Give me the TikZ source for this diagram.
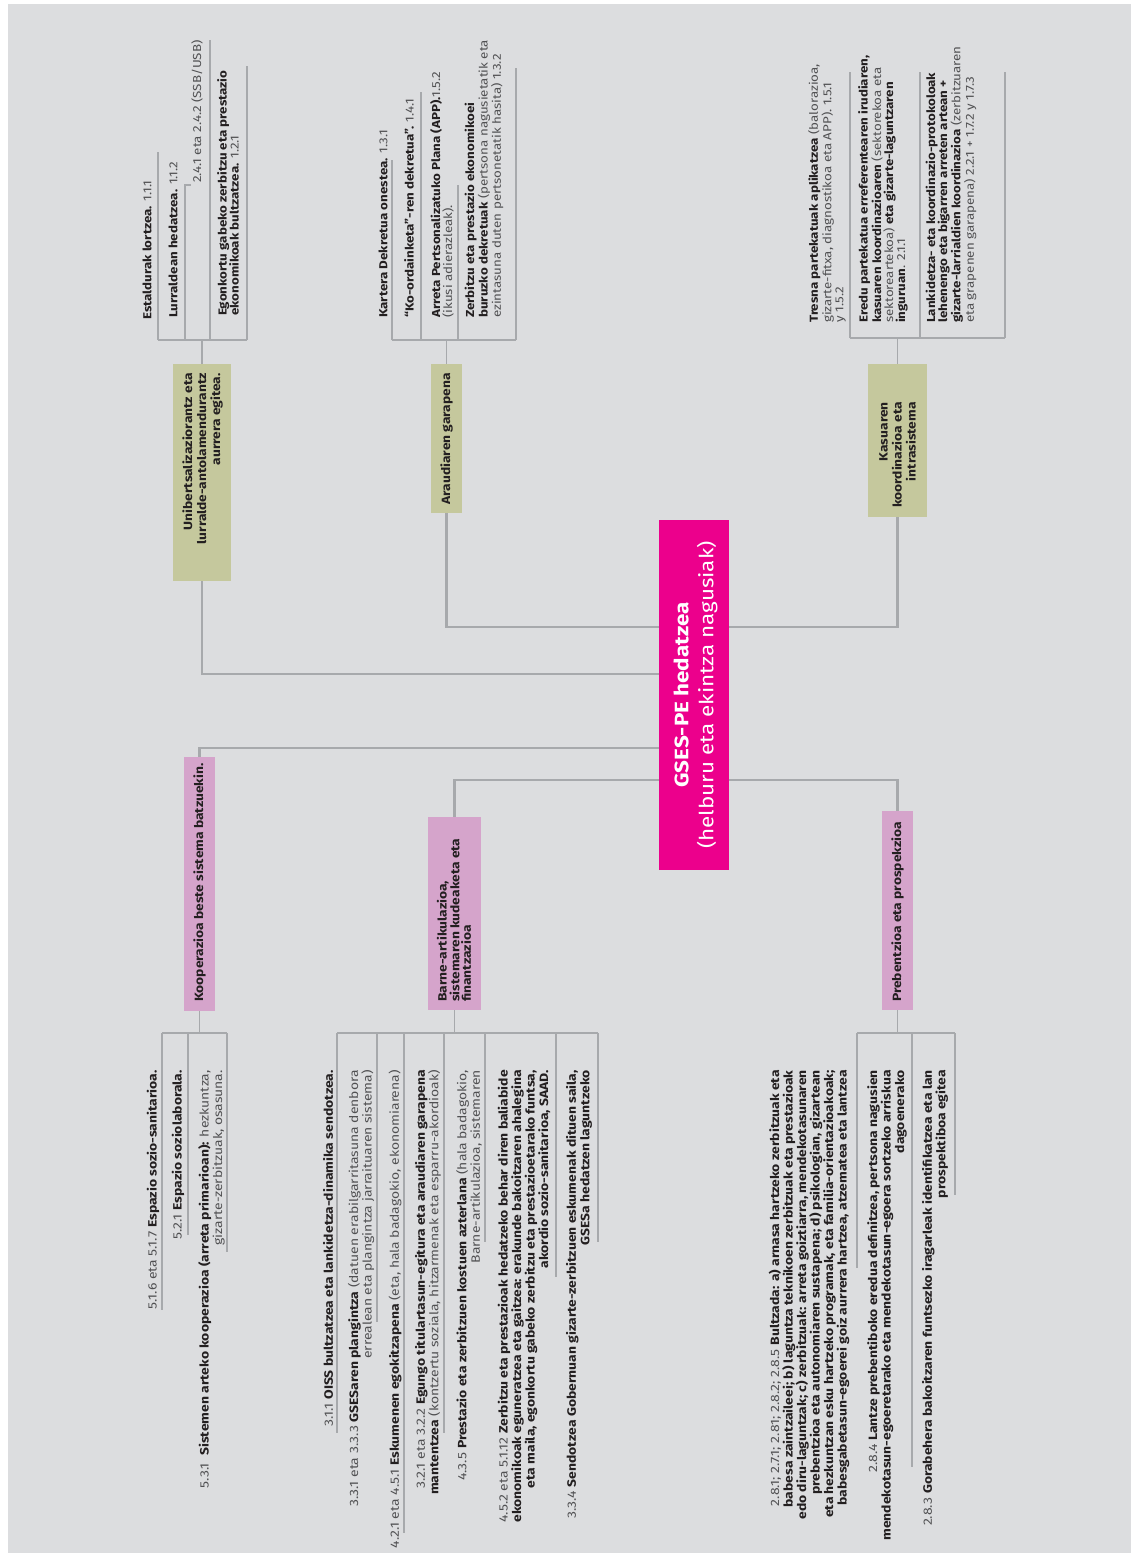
\documentclass[tikz,border=0pt]{standalone}
\usepackage{fontspec}
\setmainfont{Fira Sans}[FakeStretch=1.15]
\definecolor{bgc}{HTML}{DCDDDF}
\definecolor{linec}{HTML}{A7A9AC}
\definecolor{greenc}{HTML}{C5C89D}
\definecolor{pinkc}{HTML}{D5A4CB}
\definecolor{magc}{HTML}{EC008C}
\definecolor{txtc}{HTML}{231F20}
\definecolor{ltc}{HTML}{505052}
\newcommand\lt[1]{{\color{ltc}#1}}
\pgfdeclarelayer{bgl}\pgfdeclarelayer{lines}\pgfsetlayers{bgl,lines,main}
\begin{document}
\begin{tikzpicture}[x=1pt,y=-1pt,
  conn/.style={draw=linec, line width=2.6pt},
  brk/.style={draw=linec, line width=1.2pt},
  gbox/.style={fill=greenc, inner sep=0pt, draw=none},
  pbox/.style={fill=pinkc, inner sep=0pt, draw=none},
  btxt/.style={rotate=90, inner sep=0pt, font=\bfseries\fontsize{12}{14}\selectfont, text=txtc},
  ttxt/.style={rotate=90, inner sep=0pt, anchor=west, align=left, font=\fontsize{11.6}{12}\selectfont, text=txtc},
  dtxt/.style={rotate=90, inner sep=0pt, anchor=east, align=right, font=\fontsize{12.1}{13.5}\selectfont, text=txtc}]
\useasboundingbox (0,0) rectangle (1131,1555);
\begin{pgfonlayer}{bgl}
\fill[white] (0,0) rectangle (1131,1555);
\fill[bgc] (8,4) rectangle (1131,1553);
\end{pgfonlayer}

% central node
\node[fill=magc, minimum width=70pt, minimum height=350pt, inner sep=0pt] (center) at (694,695) {};
\node[rotate=90, text=white, align=center, inner sep=0pt, font=\fontsize{19.5}{25}\selectfont] (ctext) at (695.5,695) {\textbf{GSES-PE hedatzea}\\(helburu eta ekintza nagusiak)};

% boxes
\node[gbox, minimum width=58pt, minimum height=217pt] (uni) at (202,472.5) {};
\node[btxt, anchor=east, align=right] (unit) at (202.5,373) {Unibertsalizaziorantz eta\\lurralde-antolamendurantz\\aurrera egitea.};
\node[gbox, minimum width=31pt, minimum height=149pt] (arau) at (446.5,438.5) {};
\node[btxt, anchor=east, align=right] (araut) at (446.5,373) {Araudiaren garapena};
\node[gbox, minimum width=59pt, minimum height=153pt] (kas) at (897.5,440.5) {};
\node[btxt, anchor=east, align=right] (kast) at (897.5,402) {Kasuaren\\koordinazioa eta\\intrasistema};
\node[pbox, minimum width=31pt, minimum height=254pt] (koop) at (199.5,884) {};
\node[btxt, anchor=west, align=left] (koopt) at (199.5,1002) {Kooperazioa beste sistema batzuekin.};
\node[pbox, minimum width=53pt, minimum height=193pt] (barne) at (454.5,913.5) {};
\node[btxt, anchor=west, align=left, font=\bfseries\fontsize{12}{11.5}\selectfont] (barnet) at (454,1002) {Barne-artikulazioa,\\sistemaren kudeaketa eta\\finantzazioa};
\node[pbox, minimum width=31pt, minimum height=199pt] (preb) at (897.5,910.5) {};
\node[btxt, anchor=west, align=left] (prebt) at (897.5,1002) {Prebentzioa eta prospekzioa};

% top-left texts
\node[ttxt] (t1) at (147,320) {\textbf{Estaldurak lortzea.} \lt{1.1.1}};
\node[ttxt] (t2) at (173,318) {\textbf{Lurraldean hedatzea.} \lt{1.1.2}};
\node[ttxt] (t3) at (197,183) {\lt{2.4.1 eta 2.4.2 (SSB/USB)}};
\node[ttxt] (t4) at (228,316) {\textbf{Egonkortu gabeko zerbitzu eta prestazio}\\\textbf{ekonomikoak bultzatzea.} \lt{1.2.1}};

% kartera texts
\node[ttxt] (k1) at (383,318) {\textbf{Kartera Dekretua onestea.} \lt{1.3.1}};
\node[ttxt] (k2) at (409,318) {\textbf{“Ko-ordainketa”-ren dekretua”.} \lt{1.4.1}};
\node[ttxt] (k3) at (442,318) {\textbf{Arreta Pertsonalizatuko Plana (APP).}\lt{1.5.2}\\\lt{(ikusi adierazleak).}};
\node[ttxt] (k4) at (484,318) {\textbf{Zerbitzu eta prestazio ekonomikoei}\\\textbf{buruzko dekretuak} \lt{(pertsona nagusietatik eta}\\\lt{ezintasuna duten pertsonetatik hasita) 1.3.2}};

% kasuaren texts
\node[ttxt] (s1) at (827,323) {\textbf{Tresna partekatuak aplikatzea} \lt{(balorazioa,}\\\lt{gizarte-fitxa, diagnostikoa eta APP). 1.5.1}\\\lt{y 1.5.2}};
\node[ttxt] (s2) at (883,323) {\textbf{Eredu partekatua erreferentearen irudiaren,}\\\textbf{kasuaren koordinazioaren} \lt{(sektorekoa eta}\\\lt{sektoreartekoa)} \textbf{eta gizarte-laguntzaren}\\\textbf{inguruan}\lt{. 2.1.1}};
\node[ttxt] (s3) at (951,323) {\textbf{Lankidetza- eta koordinazio-protokoloak}\\\textbf{lehenengo eta bigarren arreten artean +}\\\textbf{gizarte-larrialdien koordinazioa} \lt{(zerbitzuaren}\\\lt{eta grapenen garapena) 2.2.1 + 1.7.2 y 1.7.3}};

% kooperazioa texts
\node[dtxt] (p1) at (153,1070) {\lt{5.1.6 eta 5.1.7} \textbf{Espazio sozio-sanitarioa.}};
\node[dtxt] (p2) at (178,1070) {\lt{5.2.1} \textbf{Espazio soziolaborala.}};
\node[dtxt] (p3) at (211.5,1070) {\lt{5.3.1}\ \ \textbf{Sistemen arteko kooperazioa (arreta primarioan):} \lt{hezkuntza,}\\\lt{gizarte-zerbitzuak, osasuna.}};

% barne texts
\node[dtxt] (b1) at (328,1070) {\lt{3.1.1} \textbf{OISS bultzatzea eta lankidetza-dinamika sendotzea.}};
\node[dtxt] (b2) at (361,1070) {\lt{3.3.1 eta 3.3.3} \textbf{GSESaren plangintza} \lt{(datuen erabilgarritasuna denbora}\\\lt{errealean eta plangintza jarraituaren sistema)}};
\node[dtxt] (b3) at (395,1070) {\lt{4.2.1 eta 4.5.1} \textbf{Eskumenen egokitzapena} \lt{(eta, hala badagokio, ekonomiarena)}};
\node[dtxt] (b4) at (428,1070) {\lt{3.2.1 eta 3.2.2} \textbf{Egungo titulartasun-egitura eta araudiaren garapena}\\\textbf{mantentzea} \lt{(kontzertu soziala, hitzarmenak eta esparru-akordioak)}};
\node[dtxt] (b5) at (469,1070) {\lt{4.3.5} \textbf{Prestazio eta zerbitzuen kostuen azterlana} \lt{(hala badagokio,}\\\lt{Barne-artikulazioa, sistemaren}};
\node[dtxt] (b6) at (524,1070) {\lt{4.5.2 eta 5.1.12} \textbf{Zerbitzu eta prestazioak hedatzeko behar diren baliabide}\\\textbf{ekonomikoak eguneratzea eta gaitzea: erakunde bakoitzaren ahalegina}\\\textbf{eta maila, egonkortu gabeko zerbitzu eta prestazioetarako funtsa,}\\\textbf{akordio sozio-sanitarioa, SAAD.}};
\node[dtxt] (b7) at (579,1070) {\lt{3.3.4} \textbf{Sendotzea Gobernuan gizarte-zerbitzuen eskumenak dituen saila,}\\\textbf{GSESa hedatzen laguntzeko}};

% prebentzioa texts
\node[dtxt] (r1) at (809,1070) {\lt{2.8.1; 2.7.1; 2.81; 2.8.2; 2.8.5} \textbf{Bultzada: a) arnasa hartzeko zerbitzuak eta}\\\textbf{babesa zaintzaileei; b) laguntza teknikoen zerbitzuak eta prestazioak}\\\textbf{edo diru-laguntzak; c) zerbitzuak: arreta goiztiarra, mendekotasunaren}\\\textbf{prebentzioa eta autonomiaren sustapena; d) psikologian, gizartean}\\\textbf{eta hezkuntzan esku hartzeko programak, eta familia-orientazioakoak;}\\\textbf{babesgabetasun-egoerei goiz aurrera hartzea, atzematea eta lantzea}};
\node[dtxt] (r2) at (887,1070) {\lt{2.8.4} \textbf{Lantze prebentiboko eredua definitzea, pertsona nagusien}\\\textbf{mendekotasun-egoeretarako eta mendekotasun-egoera sortzeko arriskua}\\\textbf{dagoenerako}};
\node[dtxt] (r3) at (935,1070) {\lt{2.8.3} \textbf{Gorabehera bakoitzaren funtsezko iragarleak identifikatzea eta lan}\\\textbf{prospektiboa egitea}};

\begin{pgfonlayer}{lines}
% main connectors
\coordinate (ja) at (200,674);
\coordinate (jb) at (446.5,627);
\coordinate (jc) at (199.5,748);
\coordinate (jd) at (454.5,780);
\draw[conn] (uni.south) -- (uni.south |- ja) -- (ja -| center.west);
\draw[conn] (arau.south) -- (arau.south |- jb) -- (jb -| kas.south) -- (kas.south);
\draw[conn] (koop.north) -- (koop.north |- jc) -- (jc -| center.west);
\draw[conn] (barne.north) -- (barne.north |- jd) -- (jd -| preb.north) -- (preb.north);

% top-left bracket
\coordinate (ub) at (202,340);
\draw[brk] (uni.north) -- (ub);
\draw[brk] (158,340) -- (247,340);
\draw[brk] (158,340) -- (158,152);
\draw[brk] (185,340) -- (185,185) -- (191,185);
\draw[brk] (210,340) -- (210,40);
\draw[brk] (247,340) -- (247,66);

% kartera bracket
\coordinate (ab) at (446.5,340);
\draw[brk] (arau.north) -- (ab);
\draw[brk] (392,340) -- (516,340);
\draw[brk] (392,340) -- (392,160);
\draw[brk] (421,340) -- (421,92);
\draw[brk] (458,340) -- (458,185);
\draw[brk] (516,340) -- (516,68);

% kasuaren bracket
\coordinate (kb) at (897.5,338);
\draw[brk] (kas.north) -- (kb);
\draw[brk] (850,338) -- (1005,338);
\draw[brk] (850,338) -- (850,72);
\draw[brk] (920,338) -- (920,72);
\draw[brk] (1005,338) -- (1005,72);

% kooperazioa bracket
\coordinate (pb) at (199.5,1033);
\draw[brk] (koop.south) -- (pb);
\draw[brk] (162,1033) -- (227,1033);
\draw[brk] (162,1033) -- (162,1310);
\draw[brk] (188,1033) -- (188,1235);
\draw[brk] (227,1033) -- (227,1252);

% barne bracket
\coordinate (bb) at (454.5,1033);
\draw[brk] (barne.south) -- (bb);
\draw[brk] (337,1033) -- (598,1033);
\draw[brk] (337,1033) -- (337,1433);
\draw[brk] (377,1033) -- (377,1322);
\draw[brk] (404,1033) -- (404,1533);
\draw[brk] (444,1033) -- (444,1433);
\draw[brk] (485,1033) -- (485,1242);
\draw[brk] (556,1033) -- (556,1277);
\draw[brk] (598,1033) -- (598,1242);

% prebentzioa bracket
\coordinate (rb) at (897.5,1033);
\draw[brk] (preb.south) -- (rb);
\draw[brk] (857,1033) -- (955,1033);
\draw[brk] (857,1033) -- (857,1268);
\draw[brk] (912,1033) -- (912,1467);
\draw[brk] (955,1033) -- (955,1195);
\end{pgfonlayer}
\end{tikzpicture}
\end{document}
